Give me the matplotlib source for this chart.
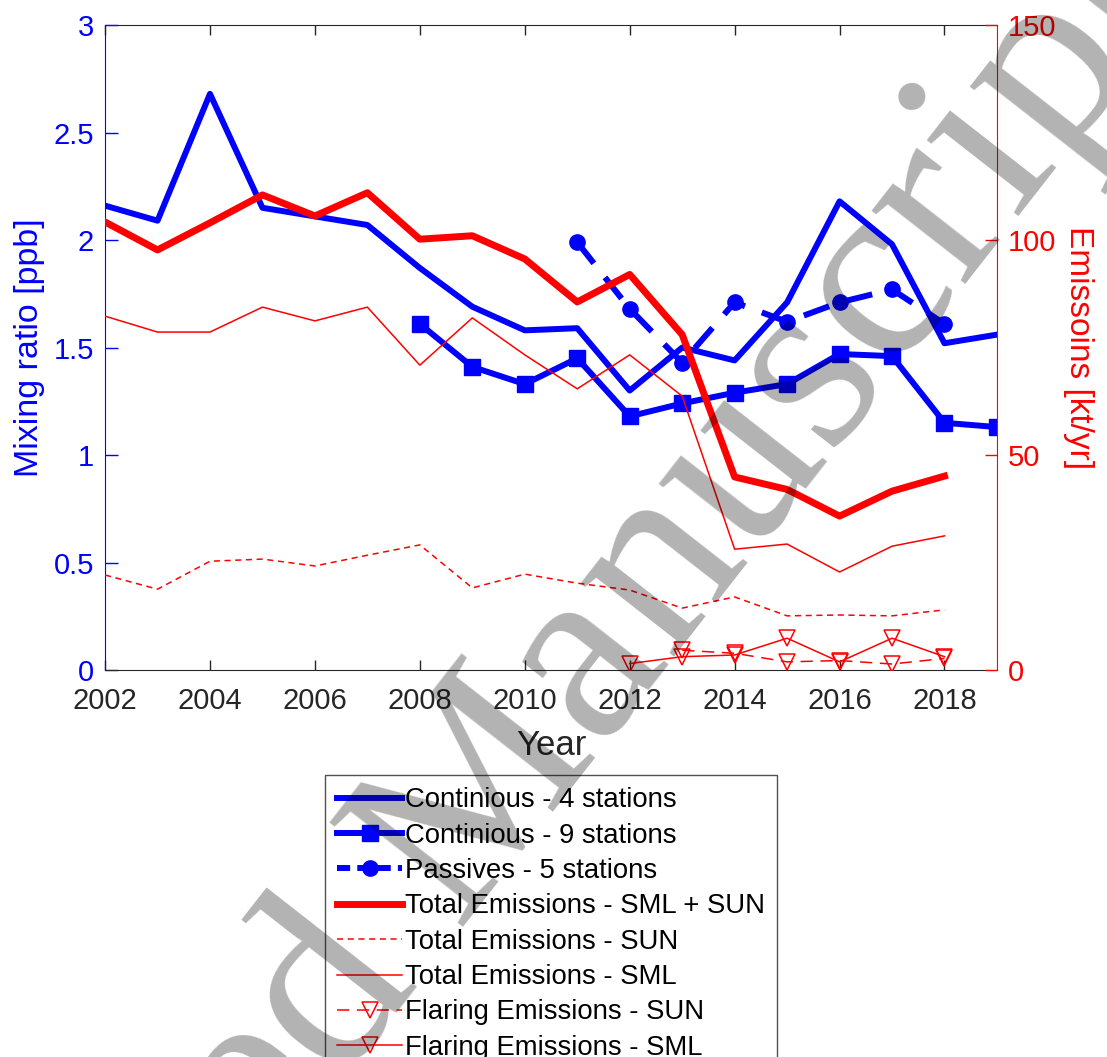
import numpy as np
import matplotlib
matplotlib.use('Agg')
import matplotlib.pyplot as plt
from matplotlib.lines import Line2D

plt.rcParams['font.family'] = ['Liberation Sans', 'DejaVu Sans']

# mixing ratios [ppb]
years_c4 = np.arange(2002, 2020)
cont4 = [2.16, 2.09, 2.68, 2.15, 2.11, 2.07, 1.87, 1.69, 1.58, 1.59,
         1.30, 1.50, 1.44, 1.71, 2.18, 1.98, 1.52, 1.56]

years_c9 = np.arange(2008, 2020)
cont9 = [1.61, 1.41, 1.33, 1.45, 1.18, 1.24, 1.29, 1.33, 1.47, 1.46, 1.15, 1.13]

years_pas = np.arange(2011, 2019)
passives = [1.99, 1.68, 1.43, 1.71, 1.62, 1.71, 1.77, 1.61]

# emissions [kt/yr]
years_em = np.arange(2002, 2019)
em_total = [104.2, 97.7, 104.0, 110.5, 105.6, 111.0, 100.2, 101.0, 95.6, 85.6,
            92.0, 78.0, 44.9, 42.0, 35.8, 41.6, 45.1]
em_sun = [22.1, 18.8, 25.3, 25.8, 24.2, 26.7, 29.1, 19.1, 22.3, 20.2,
          18.6, 14.4, 17.0, 12.6, 12.8, 12.6, 14.0]
em_sml = [82.3, 78.6, 78.6, 84.4, 81.2, 84.4, 70.9, 81.9, 73.3, 65.4,
          73.3, 63.7, 28.1, 29.3, 22.8, 28.8, 31.2]

years_fl_sun = np.arange(2013, 2019)
flare_sun = [4.6, 3.9, 1.9, 2.2, 1.4, 2.7]
years_fl_sml = np.arange(2012, 2019)
flare_sml = [1.5, 3.1, 3.5, 7.4, 1.9, 7.4, 3.1]

blue = '#0000ff'
red = '#ff0000'
dark = '#262626'

fig = plt.figure(figsize=(11.07, 10.57), dpi=100)
ax = fig.add_axes([0.0949, 0.3661, 0.8057, 0.6102])
ax2 = ax.twinx()

ax.plot(years_c4, cont4, color=blue, lw=4.3)
ax.plot(years_c9, cont9, color=blue, lw=4.3, marker='s', ms=11)
ax.plot(years_pas, passives, color=blue, lw=4.3, marker='o', ms=11,
        linestyle=(0, (4.5, 3.0)))

ax2.plot(years_em, em_total, color=red, lw=5.0)
ax2.plot(years_em, em_sun, color=red, lw=1.1, linestyle=(0, (4, 3)))
ax2.plot(years_em, em_sml, color=red, lw=1.1)
ax2.plot(years_fl_sun, flare_sun, color=red, lw=1.1, linestyle=(0, (8, 5)),
         marker='v', ms=11, mfc='none', mew=1.1)
ax2.plot(years_fl_sml, flare_sml, color=red, lw=1.1,
         marker='v', ms=11, mfc='none', mew=1.1)

ax.set_xlim(2002, 2019)
ax.set_ylim(0, 3)
ax2.set_ylim(0, 150)
ax.set_xticks(np.arange(2002, 2019, 2))
ax.set_yticks([0, 0.5, 1, 1.5, 2, 2.5, 3])
ax.set_yticklabels(['0', '0.5', '1', '1.5', '2', '2.5', '3'])
ax2.set_yticks([0, 50, 100, 150])

ax.tick_params(axis='x', direction='in', length=7, width=1, colors=dark,
               labelsize=21, top=True, pad=12)
ax.tick_params(axis='y', direction='in', length=9, width=1, colors=blue,
               labelsize=21, pad=8)
ax2.tick_params(axis='y', direction='in', length=9, width=1, colors=red,
                labelsize=21, pad=8)

for s in ['top', 'bottom']:
    ax.spines[s].set_color(dark)
ax.spines['left'].set_color(blue)
ax.spines['right'].set_visible(False)
for s in ['top', 'bottom', 'left']:
    ax2.spines[s].set_visible(False)
ax2.spines['right'].set_color(red)

ax.set_xlabel('Year', fontsize=25, color=dark, labelpad=10)
ax.set_ylabel('Mixing ratio [ppb]', fontsize=24.5, color=blue, labelpad=6)
ax2.set_ylabel('Emissoins [kt/yr]', fontsize=24, color=red, rotation=270,
               labelpad=27)

handles = [
    Line2D([], [], color=blue, lw=4.3),
    Line2D([], [], color=blue, lw=4.3, marker='s', ms=11),
    Line2D([], [], color=blue, lw=4.3, marker='o', ms=11, linestyle=(0, (2.2, 1.2))),
    Line2D([], [], color=red, lw=5.0),
    Line2D([], [], color=red, lw=1.1, linestyle=(0, (4, 3))),
    Line2D([], [], color=red, lw=1.1),
    Line2D([], [], color=red, lw=1.1, linestyle=(0, (8, 5)),
           marker='v', ms=11, mfc='none', mew=1.1),
    Line2D([], [], color=red, lw=1.1, marker='v', ms=11, mfc='none', mew=1.1),
]
labels = ['Continious - 4 stations', 'Continious - 9 stations',
          'Passives - 5 stations', 'Total Emissions - SML + SUN',
          'Total Emissions - SUN', 'Total Emissions - SML',
          'Flaring Emissions - SUN', 'Flaring Emissions - SML']
leg = fig.legend(handles, labels, loc='upper center',
                 bbox_to_anchor=(551 / 1107, 1 - 775 / 1057),
                 fontsize=19.8, frameon=True, fancybox=False,
                 edgecolor=dark, handlelength=2.35, handletextpad=0.1,
                 labelspacing=0.34, borderpad=0.45, borderaxespad=0)
leg.get_frame().set_linewidth(1.0)

# watermark
fig.text(0.4526, 0.1693, 'Accepted Manuscript', family='Liberation Serif',
         fontsize=186, rotation=52, rotation_mode='anchor', ha='center',
         va='baseline', color='black', alpha=0.3, zorder=10)

fig.savefig('out.png', dpi=100)
